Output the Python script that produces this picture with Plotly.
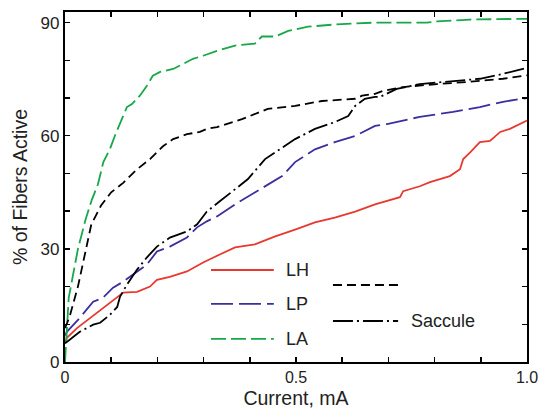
import plotly.graph_objects as go

# ---- data ----
lh_x = [0, 0.004, 0.026, 0.054, 0.082, 0.104, 0.126, 0.156, 0.184, 0.199, 0.227, 0.264, 0.299, 0.335,
        0.368, 0.411, 0.455, 0.498, 0.541, 0.584, 0.628, 0.671, 0.725, 0.732, 0.768, 0.79, 0.833,
        0.855, 0.862, 0.877, 0.898, 0.92, 0.942, 0.963, 1.0]
lh_y = [5, 6.4, 9, 11.7, 14.4, 16.5, 18.4, 18.6, 20, 21.8, 22.6, 24, 26.4, 28.5,
        30.4, 31.2, 33.3, 35.1, 37, 38.3, 39.9, 41.8, 43.7, 45.3, 46.6, 47.7, 49.3,
        51.1, 53.8, 55.6, 58.3, 58.6, 61, 61.8, 64]

lp_x = [0, 0.004, 0.032, 0.061, 0.082, 0.104, 0.126, 0.156, 0.177, 0.199, 0.227, 0.264, 0.286, 0.307,
        0.329, 0.368, 0.405, 0.433, 0.47, 0.498, 0.541, 0.584, 0.628, 0.671, 0.697, 0.768, 0.84,
        0.898, 0.948, 1.0]
lp_y = [7, 8, 11.7, 16, 17, 19.7, 21.3, 24, 25.8, 29.3, 30.6, 33, 35.7, 37.3,
        38.6, 41.8, 44.5, 46.5, 49.3, 53, 56.4, 58.3, 59.9, 62.6, 63.1, 65, 66.3,
        67.6, 69, 70]

la_x = [0, 0.003, 0.008, 0.028, 0.045, 0.058, 0.071, 0.083, 0.097, 0.108, 0.124, 0.134, 0.145, 0.162,
        0.177, 0.19, 0.206, 0.234, 0.255, 0.277, 0.299, 0.329, 0.368, 0.411, 0.426, 0.455, 0.483,
        0.526, 0.584, 0.671, 0.783, 0.805, 0.877, 1.0]
la_y = [0, 8, 17, 30, 38, 43, 47, 53, 56.4, 60, 64.4, 67.6, 68.4, 70.6,
        73.2, 75.9, 76.9, 77.7, 79, 80.4, 81.2, 82.5, 83.9, 84.4, 86.3, 86.3, 87.8,
        88.9, 89.5, 90, 90, 90.3, 90.8, 91]

sd_x = [0, 0.01, 0.028, 0.043, 0.057, 0.078, 0.1, 0.126, 0.134, 0.156, 0.184, 0.199, 0.212, 0.234,
        0.264, 0.292, 0.307, 0.329, 0.383, 0.439, 0.498, 0.556, 0.628, 0.643, 0.671, 0.688, 0.732,
        0.805, 0.877, 0.948, 1.0]
sd_y = [9, 12, 20, 29, 36.5, 41.5, 45, 47.5, 48.5, 51.1, 53.8, 55.6, 57.2, 59.1,
        60.4, 61, 61.8, 62.3, 64.4, 67.1, 67.9, 69.2, 69.8, 70.6, 71.1, 71.9, 72.9,
        73.7, 74.3, 75.1, 76]

sc_x = [0, 0.004, 0.032, 0.061, 0.076, 0.097, 0.113, 0.119, 0.134, 0.156, 0.177, 0.199, 0.227, 0.264,
        0.286, 0.307, 0.335, 0.368, 0.396, 0.433, 0.455, 0.498, 0.541, 0.584, 0.613, 0.628, 0.649,
        0.671, 0.682, 0.718, 0.768, 0.84, 0.898, 0.948, 1.0]
sc_y = [5, 5.3, 8, 9.9, 10.4, 12.5, 14.6, 17.3, 20.5, 24.5, 27.7, 30.6, 33, 34.6,
        36.5, 39.9, 42.6, 45.8, 48.5, 53.8, 55.6, 59.1, 61.8, 63.6, 65.2, 67.9, 69.8,
        70.3, 70.3, 72.4, 73.7, 74.5, 75.1, 76.4, 78]

x_ticks = [0, 0.1, 0.2, 0.3, 0.4, 0.5, 0.6, 0.7, 0.8, 0.9, 1.0]
x_ticktext = ["0", "", "", "", "", "0.5", "", "", "", "", "1.0"]
y_ticks = [0, 10, 20, 30, 40, 50, 60, 70, 80, 90]
y_ticktext = ["0", "", "", "30", "", "", "60", "", "", "90"]

# ---- styles ----
RED = "#e8382f"
BLUE = "#3a2f9e"
GREEN = "#17a84a"
BLACK = "#000000"
TXT = "#222222"
FONT = "Liberation Sans, Arial, Helvetica, sans-serif"

series = [
    ("LH", lh_x, lh_y, RED, "solid"),
    ("LP", lp_x, lp_y, BLUE, "22px,6px"),
    ("LA", la_x, la_y, GREEN, "15px,5px"),
    ("", sd_x, sd_y, BLACK, "9px,5px"),
    ("Saccule", sc_x, sc_y, BLACK, "20px,4px,2px,4px"),
]

fig = go.Figure()
for name, xs, ys, col, dash in series:
    fig.add_trace(go.Scatter(x=xs, y=ys, mode="lines", name=name, showlegend=False,
                             hoverinfo="skip",
                             line=dict(color=col, width=1.8, dash=dash)))

# ---- hand-built legend (paper coords) ----
leg = [
    # x0, x1, y, text_x, label, color, dash
    (0.316, 0.452, 0.263, 0.474, "LH", RED, "solid"),
    (0.316, 0.452, 0.166, 0.474, "LP", BLUE, "22px,6px"),
    (0.316, 0.452, 0.066, 0.474, "LA", GREEN, "15px,5px"),
    (0.580, 0.721, 0.220, 0.745, "", BLACK, "9px,5px"),
    (0.580, 0.721, 0.117, 0.745, "Saccule", BLACK, "20px,4px,2px,4px"),
]
for x0, x1, y, tx, lab, col, dash in leg:
    fig.add_shape(type="line", xref="paper", yref="paper", x0=x0, x1=x1, y0=y, y1=y,
                  line=dict(color=col, width=1.9, dash=dash))
    if lab:
        fig.add_annotation(xref="paper", yref="paper", x=tx, y=y, text=lab, showarrow=False,
                           xanchor="left", yanchor="middle", font=dict(size=18, color=TXT, family=FONT))

axis_common = dict(showline=True, linewidth=2.2, linecolor="black", mirror="ticks",
                   ticks="inside", ticklen=5, tickwidth=1.5, tickcolor="black",
                   showgrid=False, zeroline=False, automargin=False)

fig.update_xaxes(range=[0, 1], tickmode="array", tickvals=x_ticks, ticktext=x_ticktext,
                 tickfont=dict(size=16, color=TXT, family=FONT),
                 title=dict(text="Current, mA", font=dict(size=19.5, color=TXT, family=FONT), standoff=6),
                 **axis_common)
fig.update_yaxes(range=[0, 92.8], tickmode="array", tickvals=y_ticks, ticktext=y_ticktext,
                 tickfont=dict(size=17, color=TXT, family=FONT),
                 title=dict(text="% of Fibers Active", font=dict(size=19.5, color=TXT, family=FONT), standoff=8),
                 **axis_common)

fig.update_layout(width=539, height=412, margin=dict(l=65, r=12, t=12, b=50),
                  plot_bgcolor="white", paper_bgcolor="white", font=dict(family=FONT),
                  hovermode=False)

# remove the default 8px page margin so the figure fills the 539x412 window exactly
fig.write_html("out.html",
               config={"displayModeBar": False, "staticPlot": True},
               post_script="document.body.style.margin='0';document.body.style.overflow='hidden';")
